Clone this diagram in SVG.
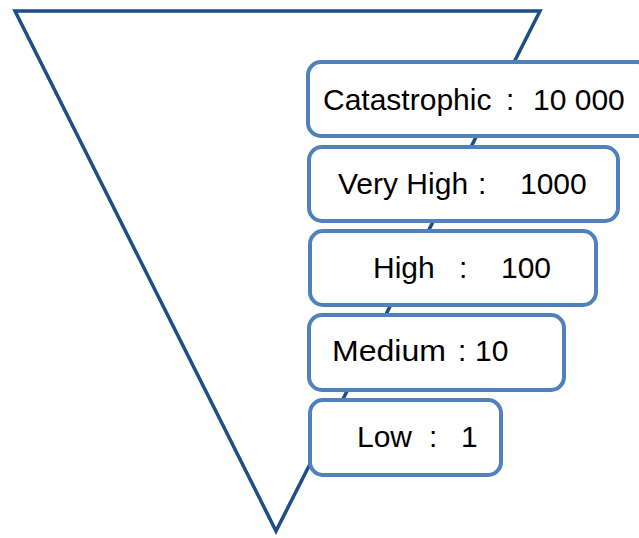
<svg xmlns="http://www.w3.org/2000/svg" width="639" height="538" viewBox="0 0 639 538">
  <style>
    .funnel { fill: none; stroke: #1f4e84; stroke-width: 3.5; stroke-linejoin: miter; }
    .box { fill: #ffffff; stroke: #4f81bd; stroke-width: 4; }
    .label { font-family: "Liberation Sans", Arial, sans-serif; font-size: 30px; fill: #000000; }
  </style>
  <rect width="639" height="538" fill="#ffffff"/>

  <!-- inverted triangle behind the level boxes -->
  <g id="funnel">
    <polygon class="funnel" points="15,11 540,11 276,531"/>
  </g>

  <g id="connectors"></g>

  <g id="level-catastrophic">
    <rect class="box" x="308" y="62" width="342" height="74" rx="13"/>
    <text class="label" y="110"><tspan x="323">Catastrophic</tspan><tspan x="506">:</tspan><tspan x="533">10 000</tspan></text>
  </g>

  <g id="level-very-high">
    <rect class="box" x="309" y="147" width="309" height="74" rx="13"/>
    <text class="label" y="194"><tspan x="338">Very High</tspan><tspan x="478">:</tspan><tspan x="520">1000</tspan></text>
  </g>

  <g id="level-high">
    <rect class="box" x="310" y="231" width="286" height="74" rx="13"/>
    <text class="label" y="278"><tspan x="373">High</tspan><tspan x="459">:</tspan><tspan x="501">100</tspan></text>
  </g>

  <g id="level-medium">
    <rect class="box" x="309" y="315" width="255" height="75" rx="13"/>
    <text class="label" y="361"><tspan x="332" textLength="114" lengthAdjust="spacingAndGlyphs">Medium</tspan><tspan x="458">:</tspan><tspan x="475">10</tspan></text>
  </g>

  <g id="level-low">
    <rect class="box" x="310" y="400" width="191" height="75" rx="13"/>
    <text class="label" y="447"><tspan x="357">Low</tspan><tspan x="429">:</tspan><tspan x="461">1</tspan></text>
  </g>
</svg>
